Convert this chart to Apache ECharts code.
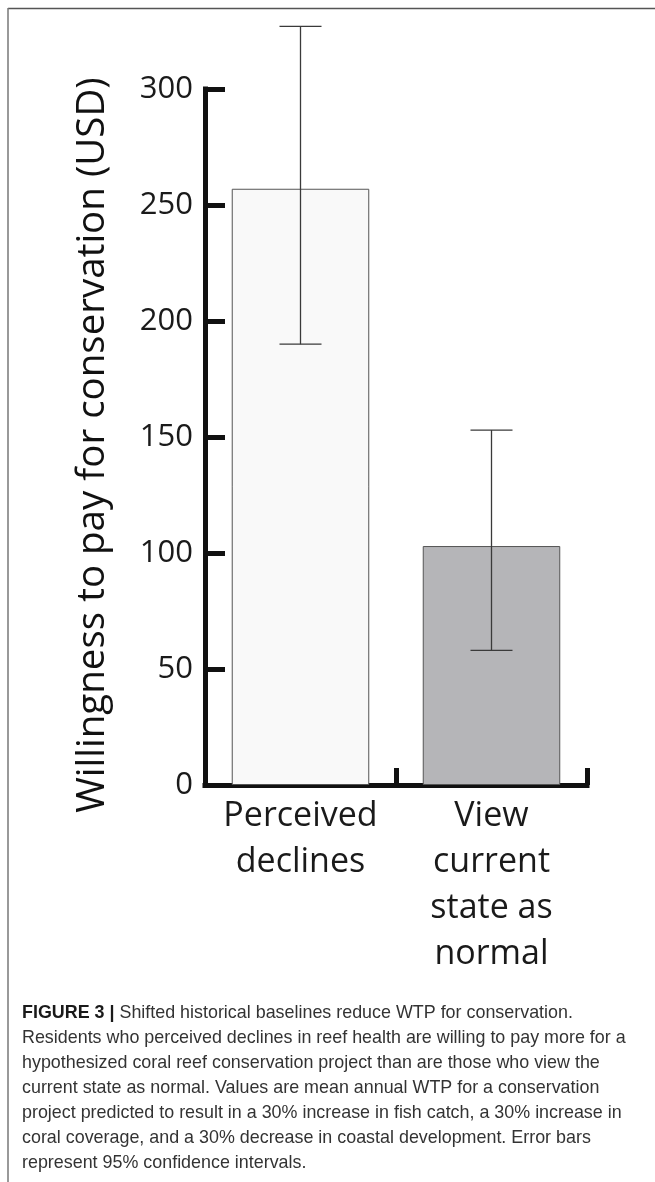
<!DOCTYPE html>
<html>
<head>
<meta charset="utf-8">
<script src="https://cdn.jsdelivr.net/npm/echarts@6/dist/echarts.min.js"></script>
<style>
html,body{margin:0;padding:0;background:#fff;}
#chart{width:655px;height:1182px;}
</style>
</head>
<body>
<div id="chart"></div>
<script>
// ---- data ----
var categories = ['Perceived\ndeclines', 'View\ncurrent\nstate as\nnormal'];
var meanWTP = [257, 103];
var ciLower = [190, 58];
var ciUpper = [327, 153];
var yTicks = [0, 50, 100, 150, 200, 250, 300];
var yAxisTitle = 'Willingness to pay for conservation (USD)';
var captionLines = [
  'Shifted historical baselines reduce WTP for conservation.',
  'Residents who perceived declines in reef health are willing to pay more for a',
  'hypothesized coral reef conservation project than are those who view the',
  'current state as normal. Values are mean annual WTP for a conservation',
  'project predicted to result in a 30% increase in fish catch, a 30% increase in',
  'coral coverage, and a 30% decrease in coastal development. Error bars',
  'represent 95% confidence intervals.'
];
var captionLabel = 'FIGURE 3 |';

var barColors = ['#f9f9f9', '#b5b5b8'];

var chart = echarts.init(document.getElementById('chart'), null, {renderer: 'canvas'});

var captionText = '{b|' + captionLabel + '} ' + captionLines[0] + '\n' + captionLines.slice(1).join('\n');

var option = {
  animation: false,
  backgroundColor: '#ffffff',
  grid: {left: 205, right: 68, top: 89, bottom: 397, containLabel: false},
  xAxis: {
    type: 'category',
    data: categories,
    boundaryGap: true,
    axisLine: {show: true, lineStyle: {color: '#111', width: 5, cap: 'square'}},
    axisTick: {show: true, inside: true, interval: 0, length: 17, lineStyle: {color: '#111', width: 5}},
    axisLabel: {
      interval: 0,
      margin: 8,
      fontFamily: 'Open Sans',
      fontSize: 34,
      lineHeight: 46,
      color: '#1a1a1a',
      verticalAlign: 'top'
    },
    splitLine: {show: false}
  },
  yAxis: {
    type: 'value',
    min: yTicks[0],
    max: yTicks[yTicks.length - 1],
    interval: yTicks[1] - yTicks[0],
    name: yAxisTitle,
    nameLocation: 'middle',
    nameGap: 92,
    nameTextStyle: {fontFamily: 'Open Sans', fontSize: 38.5, color: '#111', padding: [0, 16, 0, 0]},
    axisLine: {show: true, lineStyle: {color: '#111', width: 5, cap: 'square'}},
    axisTick: {show: true, inside: true, length: 20, lineStyle: {color: '#111', width: 5}},
    axisLabel: {margin: 12, fontFamily: 'Open Sans', fontSize: 31, color: '#1a1a1a'},
    splitLine: {show: false}
  },
  series: [
    {
      type: 'bar',
      data: meanWTP.map(function (v, i) {
        return {value: v, itemStyle: {color: barColors[i]}};
      }),
      barWidth: '72%',
      itemStyle: {borderColor: '#555', borderWidth: 1},
      z: 2
    },
    {
      type: 'custom',
      clip: false,
      z: 5,
      data: meanWTP.map(function (v, i) { return [i, ciLower[i], ciUpper[i]]; }),
      renderItem: function (params, api) {
        var x = api.value(0);
        var lo = api.coord([x, api.value(1)]);
        var hi = api.coord([x, api.value(2)]);
        var half = 21;
        var st = {stroke: '#3a3a3a', lineWidth: 1.3};
        return {
          type: 'group',
          children: [
            {type: 'line', shape: {x1: hi[0], y1: hi[1], x2: lo[0], y2: lo[1]}, style: st},
            {type: 'line', shape: {x1: hi[0] - half, y1: hi[1], x2: hi[0] + half, y2: hi[1]}, style: st},
            {type: 'line', shape: {x1: lo[0] - half, y1: lo[1], x2: lo[0] + half, y2: lo[1]}, style: st}
          ]
        };
      }
    }
  ],
  graphic: [
    {type: 'line', shape: {x1: 8, y1: 8.5, x2: 655, y2: 8.5}, style: {stroke: '#555', lineWidth: 1.6}},
    {type: 'line', shape: {x1: 8, y1: 8, x2: 8, y2: 1182}, style: {stroke: '#777', lineWidth: 1.5}},
    {
      type: 'text',
      left: 22,
      top: 1001,
      style: {
        text: captionText,
        fontFamily: 'Liberation Sans',
        fontSize: 17.9,
        lineHeight: 25,
        fill: '#333',
        rich: {
          b: {fontFamily: 'Liberation Sans', fontSize: 17.9, fontWeight: 'bold', fill: '#1a1a1a', lineHeight: 25}
        }
      }
    }
  ]
};
chart.setOption(option);
</script>
</body>
</html>
